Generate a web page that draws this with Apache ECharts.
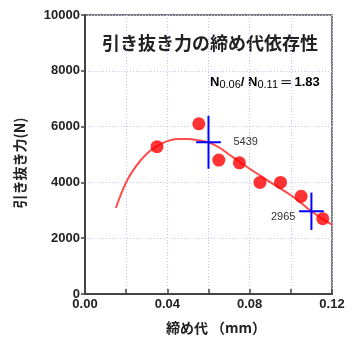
<!DOCTYPE html>
<html><head><meta charset="utf-8">
<script src="https://cdn.jsdelivr.net/npm/echarts@6/dist/echarts.min.js"></script>
<style>html,body{margin:0;padding:0;background:#fff}#c{width:356px;height:340px}</style>
</head><body><div id="c"></div>
<script>
// measured points
const pointX = [0.035, 0.0553, 0.065, 0.075, 0.085, 0.095, 0.105, 0.1155];
const pointY = [5280, 6100, 4800, 4700, 4000, 4000, 3500, 2700];
// fitted curve
const curveX = [0.015,0.02,0.025,0.03,0.035,0.04,0.045,0.05,0.055,0.06,0.065,0.07,0.075,0.08,0.085,0.09,0.095,0.10,0.105,0.11,0.115,0.12];
const curveY = [3085,4000,4600,5030,5300,5480,5560,5560,5510,5439,5260,5000,4740,4490,4250,4010,3780,3540,3260,2965,2710,2490];
// marked values with cross bars
const crossX = [0.06, 0.11];
const crossY = [5439, 2965];
const crossYErr = [950, 670];
const crossXErr = [0.006, 0.006];
const crossLabels = ['5439', '2965'];

const chart = echarts.init(document.getElementById('c'), null, {renderer:'canvas'});
const FONT = '"Liberation Sans", Arial, sans-serif';
const CJK = '"Noto Sans CJK JP", sans-serif';
chart.setOption({
  animation:false,
  backgroundColor:'#fff',
  grid:{left:85, right:24, top:15, bottom:46, show:true, borderColor:'#555', borderWidth:1.5, backgroundColor:'transparent'},
  xAxis:{type:'value', min:0, max:0.12, interval:0.02,
    axisLine:{show:true, lineStyle:{color:'#444', width:2}},
    axisTick:{show:true, inside:true, length:5, lineStyle:{color:'#444', width:1.5}},
    axisLabel:{margin:4, fontFamily:FONT, fontWeight:'bold', fontSize:13, color:'#222',
      formatter:(v)=> (Math.round(v*100)%4===0) ? v.toFixed(2) : ''},
    splitLine:{show:true, lineStyle:{color:'#c4c4f6', type:[1,2], width:1}}
  },
  yAxis:{type:'value', min:0, max:10000, interval:2000,
    axisLine:{show:true, lineStyle:{color:'#444', width:2}},
    axisTick:{show:true, inside:false, length:4, lineStyle:{color:'#444', width:1.5}},
    axisLabel:{margin:5, fontFamily:FONT, fontWeight:'bold', fontSize:13, color:'#222',
      formatter:(v)=>String(v)},
    splitLine:{show:true, lineStyle:{color:'#c4c4f6', type:[1,2], width:1}}
  },
  series:[
    {type:'line', data:curveX.map((x,i)=>[x,curveY[i]]), smooth:0.4, showSymbol:false,
      lineStyle:{color:'#ff4a4a', width:2}, z:2, silent:true},
    {type:'scatter', data:pointX.map((x,i)=>[x,pointY[i]]), symbol:'circle', symbolSize:13,
      itemStyle:{color:'#ff0000'}, z:3},
    {type:'custom', z:4, data:crossX.map((x,i)=>[x,crossY[i],crossXErr[i],crossYErr[i],i]),
      renderItem:(params, api)=>{
        const x=api.value(0), y=api.value(1), dx=api.value(2), dy=api.value(3), idx=api.value(4);
        const c=api.coord([x,y]);
        const t=api.coord([x,y+dy]), b=api.coord([x,y-dy]);
        const l=api.coord([x-dx,y]), r=api.coord([x+dx,y]);
        const st={stroke:'#0000ff', lineWidth:2};
        const lab = idx===0
          ? {type:'text', style:{text:crossLabels[idx], x:c[0]+25, y:c[1], verticalAlign:'middle', align:'left', font:'11px '+FONT, fill:'#333'}}
          : {type:'text', style:{text:crossLabels[idx], x:c[0]-16, y:c[1]+6, verticalAlign:'middle', align:'right', font:'11px '+FONT, fill:'#333'}};
        return {type:'group', children:[
          {type:'line', shape:{x1:t[0],y1:t[1],x2:b[0],y2:b[1]}, style:st},
          {type:'line', shape:{x1:l[0],y1:l[1],x2:r[0],y2:r[1]}, style:st},
          lab
        ]};
      }}
  ],
  graphic:[
    {type:'text', style:{text:'引き抜き力の締め代依存性', x:210, y:43, align:'center', verticalAlign:'middle', font:'bold 18px '+CJK, fill:'#222'}},
    {type:'text', style:{x:210, y:82, verticalAlign:'middle',
      text:'{n|N}{s|0.06}{n|/ N}{s|0.11}{e| ═ }{n|1.83}',
      rich:{n:{fontFamily:FONT, fontSize:13, fontWeight:'bold', color:'#222'},
            e:{fontFamily:FONT, fontSize:13, color:'#222'},
            s:{fontFamily:FONT, fontSize:11, color:'#222', padding:[6,0,0,0]}}}},
    {type:'text', rotation:Math.PI/2, x:20, y:163, style:{text:'引き抜き力(N)', align:'center', verticalAlign:'middle', font:'bold 14px '+CJK, fill:'#222'}},
    {type:'text', style:{text:'締め代 （mm）', x:216, y:328, align:'center', verticalAlign:'middle', font:'bold 14px '+CJK, fill:'#222'}}
  ]
});
</script></body></html>
